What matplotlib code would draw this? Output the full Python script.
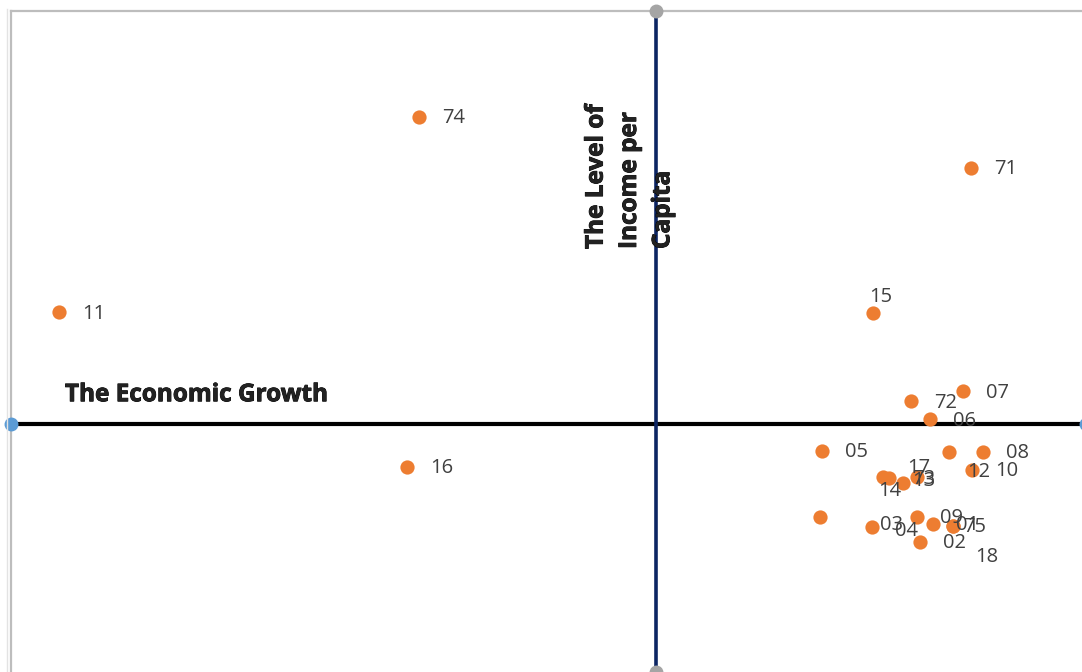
import matplotlib.pyplot as plt
import matplotlib.patheffects as pe

# dados (coordenadas)
years = ['74', '71', '11', '15', '07', '72', '06', '16', '05', '12', '08', '10',
         '14', '73', '13', '17', '03', '09', '01', '75', '18', '04', '02']
growth = [-1.102, 1.465, -2.777, 1.009, 1.428, 1.186, 1.274, -1.158, 0.772, 1.363, 1.521, 1.470,
          1.056, 1.084, 1.149, 1.214, 1.005, 1.214, 1.288, 1.381, 1.381, 0.763, 1.228]
income = [1.488, 1.242, 0.541, 0.536, 0.159, 0.111, 0.024, -0.208, -0.130, -0.135, -0.135, -0.222,
          -0.256, -0.261, -0.285, -0.256, -0.498, -0.449, -0.483, -0.493, -0.493, -0.449, -0.570]

x_range = [-3, 2]
y_range = [-1.2, 2]

# rotulos movidos manualmente (deslocamento em pixels: dx da borda esquerda, dy para baixo)
label_moves = {
    '15': (-4, -18), '12': (18, 19), '14': (-5, 13), '13': (9, -3),
    '17': (-10, -10), '03': (8, -3), '75': (10, 0), '18': (22, 30), '04': (75, 13),
}
default_move = (23, 0)

fig = plt.figure(figsize=(10.82, 6.72), dpi=100)
ax = fig.add_axes([11 / 1082, 0, 1075 / 1082, 661 / 672])
ax.set_xlim(x_range)
ax.set_ylim(y_range)

# eixos centrais
ax.plot(x_range, [0, 0], color='black', linewidth=3, zorder=2, clip_on=False)
ax.plot(x_range, [0, 0], 'o', color='#5b9bd5', markersize=9, zorder=3, clip_on=False)
ax.plot([0, 0], y_range, color='#0c2563', linewidth=2.6, zorder=2, clip_on=False)
ax.plot([0, 0], y_range, 'o', color='#a5a5a5', markersize=9, zorder=3, clip_on=False)

ax.scatter(growth, income, s=105, color='#ed7d31', zorder=4, linewidths=0)

for lab, x, y in zip(years, growth, income):
    dx, dy = label_moves.get(lab, default_move)
    ax.annotate(lab, (x, y), xytext=(dx * 0.72, -dy * 0.72 - 1), textcoords='offset points',
                ha='left', va='center', fontsize=14.5, color='#404040',
                family='Open Sans', zorder=5)

outline = [pe.withStroke(linewidth=0.6, foreground='black')]
ax.text(-2.749, 0.14, 'The Economic Growth', fontsize=17.5, fontweight='bold',
        family='Open Sans', color='#222222', ha='left', va='center',
        path_effects=outline, zorder=6)
fig.text(630 / 1082, 1 - 249 / 672, 'The Level of\nIncome per\nCapita', rotation=90,
         fontsize=17.5, fontweight='bold', family='Open Sans', color='#222222',
         ha='center', va='bottom', multialignment='left', linespacing=1.52,
         path_effects=outline, zorder=6)

for s in ['right', 'bottom']:
    ax.spines[s].set_visible(False)
for s in ['left', 'top']:
    ax.spines[s].set_color('#bdbdbd')
    ax.spines[s].set_linewidth(1.6)
ax.set_xticks([])
ax.set_yticks([])
fig.add_artist(plt.Line2D([7 / 1082, 7 / 1082], [0, 1 - 9 / 672], color='#e3e3e3', linewidth=1))

fig.savefig('out.png', dpi=100)
